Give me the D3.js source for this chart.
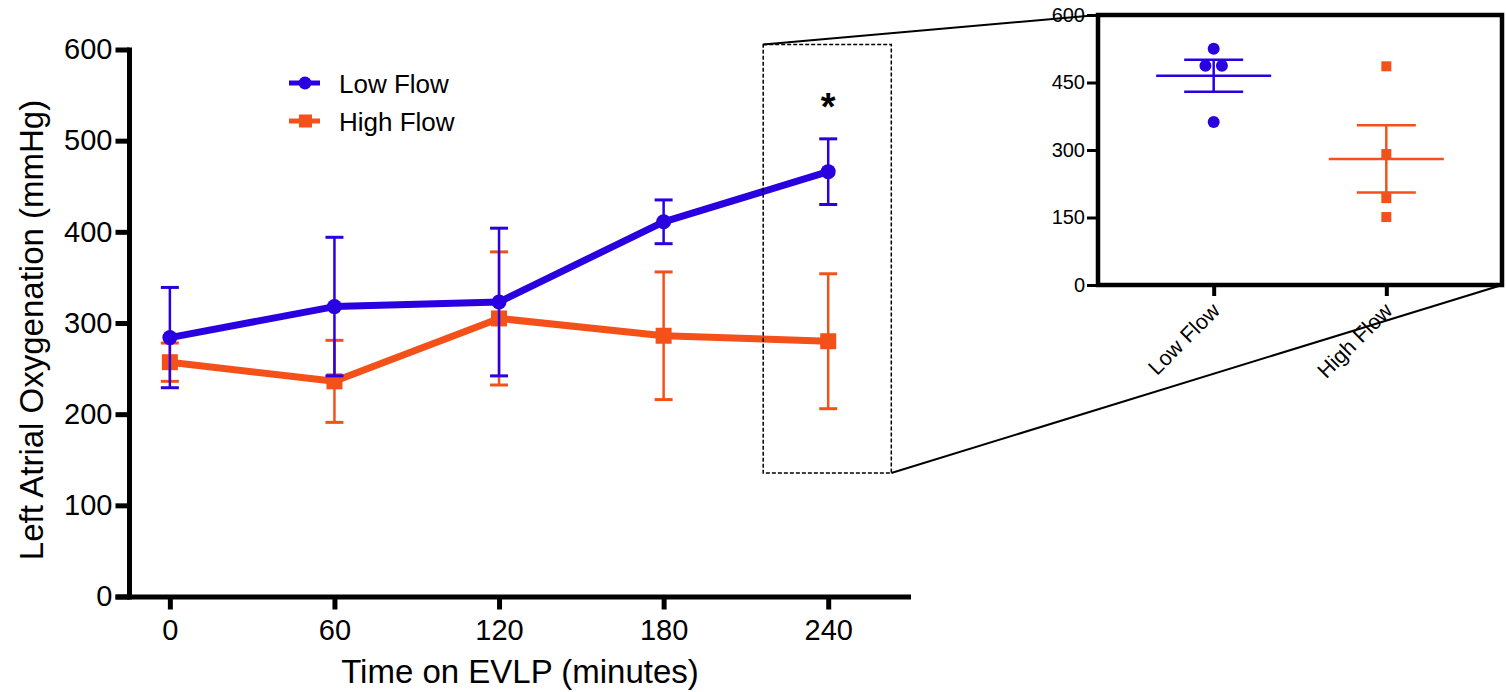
<!DOCTYPE html>
<html>
<head>
<meta charset="utf-8">
<script src="https://cdn.jsdelivr.net/npm/d3@7"></script>
<style>
    body { margin: 0; background: #fff; }
    svg, svg text { font-family: Arial, "Liberation Sans", sans-serif; }
    svg { display: block; }
</style>
</head>
<body>
<div class="chart__container"></div>
<script>
// time course (mean +/- SEM)
const times = [0, 60, 120, 180, 240];
const lowFlowMean = [284, 318, 323, 411, 466];
const lowFlowSem = [55, 76, 81, 24, 36];
const highFlowMean = [257, 236, 305, 286, 280];
const highFlowSem = [21, 45, 73, 70, 74];
const yTicks = [0, 100, 200, 300, 400, 500, 600];

// inset: individual values at 240 min
const insetGroups = ['Low Flow', 'High Flow'];
const lowFlowPoints = [525, 487, 487, 362];
const highFlowPoints = [486, 291, 193, 151];
const insetTicks = [0, 150, 300, 450, 600];

const blue = '#2a00e0';
const orange = '#f4511a';

function whenDocumentLoaded(action) {
    if (document.readyState === "loading") {
        document.addEventListener("DOMContentLoaded", action);
    } else {
        action();
    }
}

function drawChart() {
    const width = 1506, height = 692;

    const svg = d3.select(".chart__container")
        .append("svg")
        .attr("width", width)
        .attr("height", height);

    const x = d3.scaleLinear().domain([-20, 270]).range([115, 910.5]);
    const y = d3.scaleLinear().domain([0, 600]).range([596.5, 49.5]);
    const axisX = 129.5;

    // x axis
    const gx = svg.append("g")
        .attr("transform", "translate(0," + y(0) + ")")
        .call(d3.axisBottom(x).tickValues(times).tickSize(13).tickSizeOuter(0).tickPadding(10));
    gx.attr("font-family", null);
    gx.select(".domain").attr("stroke-width", 5);
    gx.selectAll(".tick line").attr("stroke-width", 5);
    gx.selectAll(".tick text").style("font-size", "29px").attr("fill", "#000");

    // y axis
    const gy = svg.append("g")
        .attr("transform", "translate(" + axisX + ",0)")
        .call(d3.axisLeft(y).tickValues(yTicks).tickSize(14).tickSizeOuter(0).tickPadding(3));
    gy.attr("font-family", null);
    gy.select(".domain").attr("stroke-width", 5).attr("d", "M0," + (y(600) - 2) + "V" + (y(0) + 3));
    gy.selectAll(".tick line").attr("stroke-width", 5);
    gy.selectAll(".tick text").style("font-size", "29px").attr("fill", "#000");

    svg.append("text")
        .attr("transform", "translate(43," + 330 + ") rotate(-90)")
        .attr("text-anchor", "middle")
        .style("font-size", "33px")
        .text("Left Atrial Oxygenation (mmHg)");

    svg.append("text")
        .attr("x", 520)
        .attr("y", 683)
        .attr("text-anchor", "middle")
        .style("font-size", "33px")
        .text("Time on EVLP (minutes)");

    const series = [
        {name: 'High Flow', mean: highFlowMean, sem: highFlowSem, color: orange, shape: 'square'},
        {name: 'Low Flow', mean: lowFlowMean, sem: lowFlowSem, color: blue, shape: 'circle'}
    ];

    const line = d3.line()
        .x(function(d) { return x(d.t); })
        .y(function(d) { return y(d.v); });

    series.forEach(function(s) {
        const pts = times.map(function(t, i) {
            return {t: t, v: s.mean[i], e: s.sem[i]};
        });
        const g = svg.append("g");

        g.append("path")
            .datum(pts)
            .attr("d", line)
            .attr("fill", "none")
            .attr("stroke", s.color)
            .attr("stroke-width", 7)
            .attr("stroke-linejoin", "round");

        // error bars
        const eb = g.selectAll(".err")
            .data(pts)
            .enter()
            .append("g");
        eb.append("line")
            .attr("x1", function(d) { return x(d.t); })
            .attr("x2", function(d) { return x(d.t); })
            .attr("y1", function(d) { return y(d.v + d.e); })
            .attr("y2", function(d) { return y(d.v - d.e); })
            .attr("stroke", s.color)
            .attr("stroke-width", 2.5);
        [1, -1].forEach(function(sign) {
            eb.append("line")
                .attr("x1", function(d) { return x(d.t) - 9; })
                .attr("x2", function(d) { return x(d.t) + 9; })
                .attr("y1", function(d) { return y(d.v + sign * d.e); })
                .attr("y2", function(d) { return y(d.v + sign * d.e); })
                .attr("stroke", s.color)
                .attr("stroke-width", 3);
        });

        // markers
        if (s.shape === 'circle') {
            g.selectAll("circle")
                .data(pts)
                .enter()
                .append("circle")
                .attr("cx", function(d) { return x(d.t); })
                .attr("cy", function(d) { return y(d.v); })
                .attr("r", 7.5)
                .attr("fill", s.color);
        } else {
            g.selectAll("rect")
                .data(pts)
                .enter()
                .append("rect")
                .attr("x", function(d) { return x(d.t) - 8; })
                .attr("y", function(d) { return y(d.v) - 8; })
                .attr("width", 16)
                .attr("height", 16)
                .attr("fill", s.color);
        }
    });

    // legend
    const legend = svg.append("g");
    [{name: 'Low Flow', color: blue, shape: 'circle', y: 83},
     {name: 'High Flow', color: orange, shape: 'square', y: 121}].forEach(function(l) {
        legend.append("line")
            .attr("x1", 289).attr("x2", 320)
            .attr("y1", l.y).attr("y2", l.y)
            .attr("stroke", l.color)
            .attr("stroke-width", 5);
        if (l.shape === 'circle') {
            legend.append("circle").attr("cx", 305).attr("cy", l.y).attr("r", 6.5).attr("fill", l.color);
        } else {
            legend.append("rect").attr("x", 299).attr("y", l.y - 6.5).attr("width", 13).attr("height", 13).attr("fill", l.color);
        }
        legend.append("text")
            .attr("x", 339)
            .attr("y", l.y + 10)
            .style("font-size", "26px")
            .text(l.name);
    });

    // significance marker
    svg.append("text")
        .attr("x", x(240))
        .attr("y", 120)
        .attr("text-anchor", "middle")
        .style("font-size", "38px")
        .style("font-weight", "bold")
        .text("*");

    // zoom box around the 240 min points
    const box = {x0: x(216.3), x1: x(263), y0: y(605.5), y1: y(135.5)};
    svg.append("rect")
        .attr("x", box.x0)
        .attr("y", box.y0)
        .attr("width", box.x1 - box.x0)
        .attr("height", box.y1 - box.y0)
        .attr("fill", "none")
        .attr("stroke", "#000")
        .attr("stroke-width", 1.5)
        .attr("stroke-dasharray", "4 2");

    // inset
    const inset = {left: 1098, right: 1502, top: 15, bottom: 285};
    const ix = d3.scalePoint().domain(insetGroups).range([inset.left, inset.right]).padding(0.67);
    const iy = d3.scaleLinear().domain([0, 600]).range([inset.bottom, inset.top]);

    svg.append("line")
        .attr("x1", box.x0).attr("y1", box.y0)
        .attr("x2", inset.left).attr("y2", inset.top)
        .attr("stroke", "#000").attr("stroke-width", 2);
    svg.append("line")
        .attr("x1", box.x1).attr("y1", box.y1)
        .attr("x2", inset.right).attr("y2", inset.bottom)
        .attr("stroke", "#000").attr("stroke-width", 2);

    const giy = svg.append("g")
        .attr("transform", "translate(" + inset.left + ",0)")
        .call(d3.axisLeft(iy).tickValues(insetTicks).tickSize(11).tickSizeOuter(0).tickPadding(2));
    giy.attr("font-family", null);
    giy.select(".domain").remove();
    giy.selectAll(".tick line").attr("stroke-width", 3);
    giy.selectAll(".tick text").style("font-size", "20px").attr("fill", "#000");

    const gix = svg.append("g")
        .attr("transform", "translate(0," + inset.bottom + ")")
        .call(d3.axisBottom(ix).tickSize(11).tickSizeOuter(0));
    gix.attr("font-family", null);
    gix.select(".domain").remove();
    gix.selectAll(".tick line").attr("stroke-width", 4);
    gix.selectAll(".tick text")
        .style("font-size", "21.5px")
        .attr("fill", "#000")
        .attr("text-anchor", "end")
        .attr("dy", null)
        .attr("y", null)
        .attr("transform", "translate(7,27) rotate(-45)");

    svg.append("rect")
        .attr("x", inset.left)
        .attr("y", inset.top)
        .attr("width", inset.right - inset.left)
        .attr("height", inset.bottom - inset.top)
        .attr("fill", "none")
        .attr("stroke", "#000")
        .attr("stroke-width", 4.5);

    const groups = [
        {name: 'Low Flow', values: lowFlowPoints, color: blue, shape: 'circle'},
        {name: 'High Flow', values: highFlowPoints, color: orange, shape: 'square'}
    ];

    groups.forEach(function(gr) {
        const cx = ix(gr.name);
        const n = gr.values.length;
        const m = d3.mean(gr.values);
        const sem = d3.deviation(gr.values) / Math.sqrt(n);
        const g = svg.append("g");

        // spread identical values side by side
        const counts = d3.rollup(gr.values, function(v) { return v.length; }, function(v) { return v; });
        const seen = new Map();
        const pts = gr.values.map(function(v) {
            const k = seen.get(v) || 0;
            seen.set(v, k + 1);
            const c = counts.get(v);
            return {v: v, dx: (k - (c - 1) / 2) * 16.5};
        });

        if (gr.shape === 'circle') {
            g.selectAll("circle")
                .data(pts)
                .enter()
                .append("circle")
                .attr("cx", function(d) { return cx + d.dx; })
                .attr("cy", function(d) { return iy(d.v); })
                .attr("r", 6)
                .attr("fill", gr.color);
        } else {
            g.selectAll("rect")
                .data(pts)
                .enter()
                .append("rect")
                .attr("x", function(d) { return cx + d.dx - 5; })
                .attr("y", function(d) { return iy(d.v) - 5; })
                .attr("width", 10)
                .attr("height", 10)
                .attr("fill", gr.color);
        }

        g.append("line")
            .attr("x1", cx - 57.5).attr("x2", cx + 57.5)
            .attr("y1", iy(m)).attr("y2", iy(m))
            .attr("stroke", gr.color).attr("stroke-width", 2.5);
        g.append("line")
            .attr("x1", cx).attr("x2", cx)
            .attr("y1", iy(m + sem)).attr("y2", iy(m - sem))
            .attr("stroke", gr.color).attr("stroke-width", 2.5);
        [1, -1].forEach(function(sign) {
            g.append("line")
                .attr("x1", cx - 29.5).attr("x2", cx + 29.5)
                .attr("y1", iy(m + sign * sem)).attr("y2", iy(m + sign * sem))
                .attr("stroke", gr.color).attr("stroke-width", 2.5);
        });
    });
}

whenDocumentLoaded(() => {
    drawChart();
});
</script>
</body>
</html>
